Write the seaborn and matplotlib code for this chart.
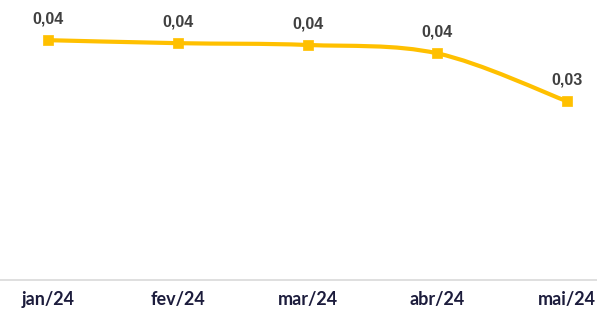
import matplotlib
matplotlib.use("Agg")
import matplotlib.pyplot as plt
from matplotlib.path import Path
from matplotlib.patches import PathPatch
import seaborn as sns
import pandas as pd

months = ["jan/24", "fev/24", "mar/24", "abr/24", "mai/24"]
values = [0.0400, 0.0395, 0.0392, 0.0378, 0.0298]

YELLOW = "#FFC000"

sns.set_theme(style="white")
plt.rcParams["font.family"] = ["Lato", "DejaVu Sans"]

df = pd.DataFrame({"mes": months, "valor": values, "pos": range(len(months))})

fig = plt.figure(figsize=(5.97, 3.13), dpi=100)
ax = fig.add_axes([0, 33 / 313, 1, 280 / 313])

# smoothed line (catmull-rom -> bezier), like the Excel "smooth line" option
xs = list(df["pos"])
ys = list(df["valor"])
verts = [(xs[0], ys[0])]
codes = [Path.MOVETO]
for i in range(len(xs) - 1):
    p0 = (xs[max(i - 1, 0)], ys[max(i - 1, 0)])
    p1 = (xs[i], ys[i])
    p2 = (xs[i + 1], ys[i + 1])
    p3 = (xs[min(i + 2, len(xs) - 1)], ys[min(i + 2, len(xs) - 1)])
    c1 = (p1[0] + (p2[0] - p0[0]) / 6, p1[1] + (p2[1] - p0[1]) / 6)
    c2 = (p2[0] - (p3[0] - p1[0]) / 6, p2[1] - (p3[1] - p1[1]) / 6)
    verts += [c1, c2, p2]
    codes += [Path.CURVE4] * 3
ax.add_patch(PathPatch(Path(verts, codes), facecolor="none", edgecolor=YELLOW,
                       lw=3, capstyle="round", zorder=2))

sns.scatterplot(data=df, x="pos", y="valor", marker="s", s=60, color=YELLOW,
                edgecolor=YELLOW, linewidth=0.5, ax=ax, zorder=3, legend=False)

for x, y in zip(xs, ys):
    ax.annotate(f"{y:.2f}".replace(".", ","), (x, y), xytext=(0, 10),
                textcoords="offset points", ha="center", va="bottom",
                fontsize=11.5, fontweight="bold", color="#404040",
                family=["Liberation Sans", "DejaVu Sans"])

ax.set_xlim(-0.37, 4.23)
ax.set_ylim(0, 0.0467)
ax.set_xticks(xs)
ax.set_xticklabels(months, fontsize=13, fontweight="bold", color="#1c1c3c")
ax.tick_params(axis="x", length=0, pad=8)
ax.set_yticks([])
ax.set_xlabel("")
ax.set_ylabel("")
sns.despine(ax=ax, left=True, top=True, right=True)
ax.spines["bottom"].set_color("#d9d9d9")
ax.spines["bottom"].set_linewidth(1.2)

fig.savefig("out.png", dpi=100)
